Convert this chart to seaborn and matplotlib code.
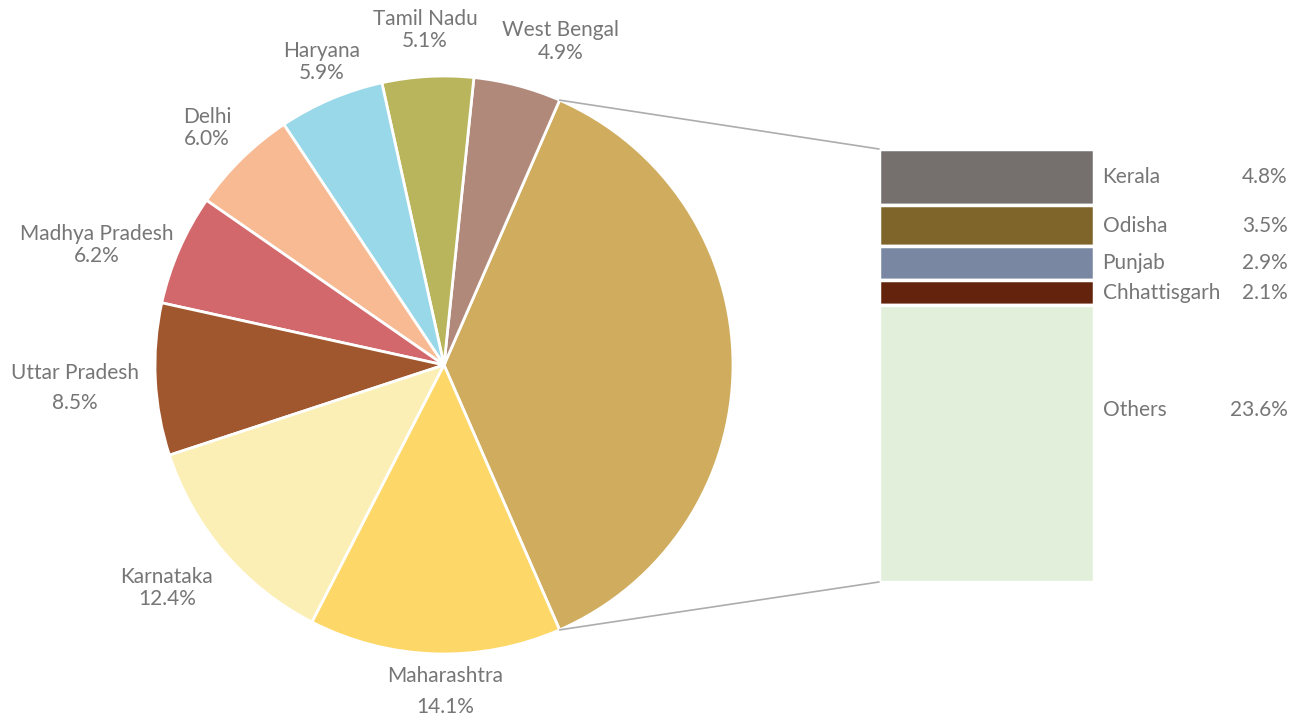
import numpy as np
import matplotlib
matplotlib.use("Agg")
import matplotlib.pyplot as plt
from matplotlib.patches import ConnectionPatch
import seaborn as sns

# pie slices (counter-clockwise from the "other" slice)
pie_names = ["Other", "West Bengal", "Tamil Nadu", "Haryana", "Delhi",
             "Madhya Pradesh", "Uttar Pradesh", "Karnataka", "Maharashtra"]
pie_vals = [36.9, 4.9, 5.1, 5.9, 6.0, 6.2, 8.5, 12.4, 14.1]
pie_colors = ["#D0AC5E", "#B0897A", "#B9B55C", "#98D8E9", "#F7BA93",
              "#D2686B", "#A0572E", "#FBEFB5", "#FDD868"]

# breakdown of the "other" slice (top to bottom)
bar_names = ["Kerala", "Odisha", "Punjab", "Chhattisgarh", "Others"]
bar_vals = [4.8, 3.5, 2.9, 2.1, 23.6]
bar_colors = ["#75706E", "#7F6529", "#7A87A3", "#64230C", "#E2EFDA"]

sns.set_theme(style="white")
plt.rcParams['font.family'] = ['Lato', 'DejaVu Sans']
txt = "#767676"
fs = 15

fig = plt.figure(figsize=(13, 7.26), dpi=100)

# pie axes: centre (444, 365) px, radius 289 px
cx, cy, r = 444, 365, 289
W, H = 1300, 726
ax = fig.add_axes([(cx - r) / W, (H - cy - r) / H, 2 * r / W, 2 * r / H])
start = -pie_vals[0] / 100 * 360 / 2
wedges, _ = ax.pie(pie_vals, colors=pie_colors, startangle=start, counterclock=True,
                   wedgeprops=dict(edgecolor="white", linewidth=2))
ax.set_xlim(-1, 1)
ax.set_ylim(-1, 1)
ax.set_aspect("equal")
ax.axis("off")

# label placement: (angle offset in deg, distance in radii, line spacing)
lab_pos = {
    "West Bengal": (-5, 1.19, 1.15),
    "Tamil Nadu": (0, 1.16, 1.15),
    "Haryana": (-1, 1.13, 1.15),
    "Delhi": (0.5, 1.16, 1.15),
    "Madhya Pradesh": (4.5, 1.27, 1.15),
    "Uttar Pradesh": (0.7, 1.28, 1.63),
    "Karnataka": (-1.7, 1.23, 1.15),
    "Maharashtra": (2, 1.13, 1.68),
}
cum = start
for name, v in zip(pie_names, pie_vals):
    span = v / 100 * 360
    mid = cum + span / 2
    cum += span
    if name not in lab_pos:
        continue
    off, d, ls = lab_pos[name]
    a = np.deg2rad(mid + off)
    ax.text(d * np.cos(a), d * np.sin(a), f"{name}\n{v:.1f}%", ha="center", va="center",
            fontsize=fs, color=txt, linespacing=ls)

# bar axes: x 879-1094 px, y 149-582 px
bx0, bx1, by0, by1 = 879, 1094, 149, 582
bax = fig.add_axes([bx0 / W, (H - by1) / H, (bx1 - bx0) / W, (by1 - by0) / H])
total = sum(bar_vals)
top = total
for name, v, c in zip(bar_names, bar_vals, bar_colors):
    bax.bar(0, v, bottom=top - v, width=1, color=c, edgecolor="white", linewidth=2.5)
    yc = top - v / 2
    if name == "Others":
        yc = top - v * 0.38
    bax.text(0.54, yc, name, ha="left", va="center", fontsize=fs, color=txt)
    bax.text(1.40, yc, f"{v:.1f}%", ha="right", va="center", fontsize=fs, color=txt)
    top -= v
bax.set_xlim(-0.5, 0.5)
bax.set_ylim(0, total)
bax.axis("off")

# connector lines from the "other" slice edges to the bar
ang = np.deg2rad(pie_vals[0] / 100 * 360 / 2)
for sgn, ybar in [(1, total), (-1, 0)]:
    con = ConnectionPatch(xyA=(np.cos(ang), sgn * np.sin(ang)), coordsA=ax.transData,
                          xyB=(-0.5, ybar), coordsB=bax.transData,
                          color="#ADADAD", linewidth=1.2)
    fig.add_artist(con)

fig.savefig("out.png", dpi=100, facecolor="white")
